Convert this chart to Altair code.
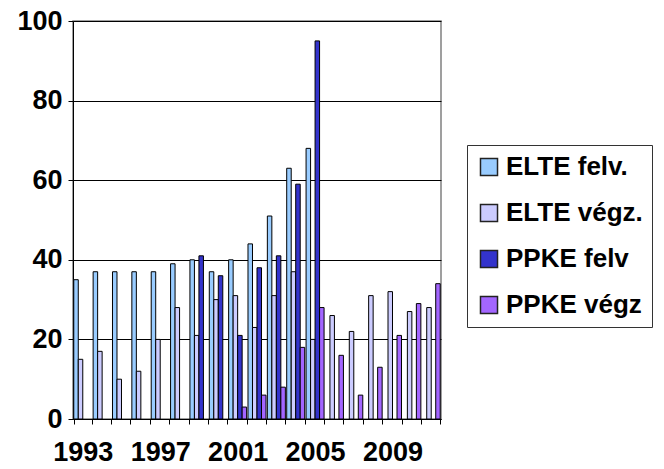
import altair as alt
import pandas as pd

years = [str(y) for y in range(1993, 2012)]
series = ["ELTE felv.", "ELTE végz.", "PPKE felv", "PPKE végz"]
colors = ["#99CCFF", "#CCCCFF", "#3333CC", "#A366FF"]

elte_felv = [35, 37, 37, 37, 37, 39, 40, 37, 40, 44, 51, 63, 68, None, None, None, None, None, None]
elte_vegz = [15, 17, 10, 12, 20, 28, 21, 30, 31, 23, 31, 37, 20, 26, 22, 31, 32, 27, 28]
ppke_felv = [None, None, None, None, None, None, 41, 36, 21, 38, 41, 59, 95, None, None, None, None, None, None]
ppke_vegz = [None, None, None, None, None, None, None, None, 3, 6, 8, 18, 28, 16, 6, 13, 21, 29, 34]

label_years = ["1993", "1997", "2001", "2005", "2009"]

rows = []
for name, vals in zip(series, [elte_felv, elte_vegz, ppke_felv, ppke_vegz]):
    for y, v in zip(years, vals):
        if v is not None:
            rows.append({"year": y, "series": name, "value": v})
df = pd.DataFrame(rows)

FONT = "Liberation Sans, Arial, sans-serif"

chart = alt.Chart(df).mark_bar(stroke="black", strokeWidth=1).encode(
    x=alt.X("year:N", sort=years,
            scale=alt.Scale(domain=years, paddingInner=0.07, paddingOuter=0.04),
            axis=alt.Axis(title=None, labelAngle=0, tickBand="extent", grid=False,
                          labelExpr="indexof(" + str(label_years) + ", datum.value) >= 0 ? datum.value : ''",
                          domainColor="black", tickColor="black", tickSize=5,
                          labelFont=FONT, labelFontSize=27, labelFontWeight="bold",
                          labelColor="black", labelPadding=15, labelOverlap=False)),
    xOffset=alt.XOffset("series:N", scale=alt.Scale(domain=series, paddingInner=0.0)),
    y=alt.Y("value:Q", scale=alt.Scale(domain=[0, 100]),
            axis=alt.Axis(title=None, values=[0, 20, 40, 60, 80, 100], grid=True,
                          gridColor="black", gridWidth=1, domainColor="black",
                          tickColor="black", tickSize=5,
                          labelFont=FONT, labelFontSize=27, labelFontWeight="bold",
                          labelColor="black", labelPadding=6)),
    color=alt.Color("series:N", scale=alt.Scale(domain=series, range=colors),
                    legend=alt.Legend(title=None, orient="none", legendX=394, legendY=124,
                                      symbolType="square", symbolSize=290,
                                      symbolStrokeColor="#222222", symbolStrokeWidth=1.5,
                                      labelFont=FONT, labelFontSize=26, labelFontWeight="bold",
                                      labelColor="black", rowPadding=20,
                                      strokeColor="#333333", padding=9)),
).properties(
    width=368, height=398,
    autosize=alt.AutoSizeParams(type="none"),
    padding={"left": 65, "top": 13, "right": 215, "bottom": 48},
).configure_view(stroke="#808080", strokeWidth=1.5)

chart.save("out.html", embed_options={"renderer": "svg", "actions": False})
